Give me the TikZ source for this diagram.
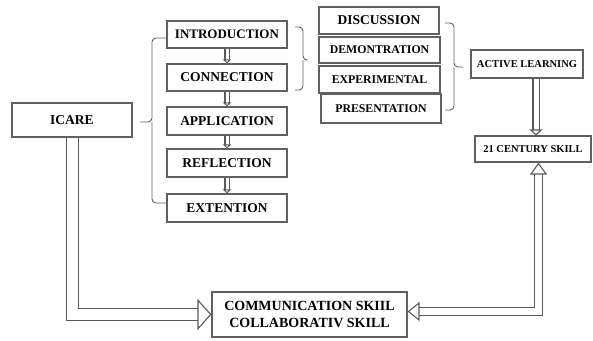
\documentclass[tikz,border=0pt]{standalone}
\usepackage{fontspec}
\setmainfont{Liberation Serif}
\usetikzlibrary{arrows.meta}

\begin{document}
\begin{tikzpicture}[x=1pt, y=-1pt, line join=miter]

  \tikzstyle{box}=[draw=gray!75!black, line width=1.1pt, font=\bfseries, inner sep=0pt, align=center, text=black]
  \tikzstyle{hollow}=[draw=gray!70!black, line width=1.1pt, double=white]
  \tikzstyle{bracket}=[draw=gray!75!black, line width=0.9pt, rounded corners=4pt]

  \useasboundingbox (0,0) rectangle (593,340);

  % left part
  \node[box, minimum width=120, minimum height=34, font=\bfseries\fontsize{13.5}{15}\selectfont] (icare) at (72,120) {ICARE};

  \node[box, minimum width=120, minimum height=27, font=\bfseries\fontsize{13}{15}\selectfont] (intro) at (227,34.5)  {INTRODUCTION};
  \node[box, minimum width=120, minimum height=27, font=\bfseries\fontsize{13.5}{15}\selectfont] (conn)  at (227,77.5)  {CONNECTION};
  \node[box, minimum width=120, minimum height=28, font=\bfseries\fontsize{13.5}{15}\selectfont] (appl)  at (227,121)   {APPLICATION};
  \node[box, minimum width=120, minimum height=28, font=\bfseries\fontsize{13.5}{15}\selectfont] (refl)  at (227,163)   {REFLECTION};
  \node[box, minimum width=120, minimum height=28, font=\bfseries\fontsize{13.5}{15}\selectfont] (ext)   at (227,208)   {EXTENTION};

  % middle part
  \node[box, minimum width=120, minimum height=27, font=\bfseries\fontsize{13.5}{15}\selectfont] (disc) at (379,20.5)  {DISCUSSION};
  \node[box, minimum width=121, minimum height=26, font=\bfseries\fontsize{11.8}{14}\selectfont] (demo) at (379.5,50)  {DEMONTRATION};
  \node[box, minimum width=121, minimum height=27, font=\bfseries\fontsize{11.8}{14}\selectfont] (expe) at (379.5,79.5) {EXPERIMENTAL};
  \node[box, minimum width=120, minimum height=29, font=\bfseries\fontsize{11.8}{14}\selectfont] (pres) at (381,108.5)  {PRESENTATION};

  % right part
  \node[box, minimum width=112, minimum height=28, font=\bfseries\fontsize{10.5}{12}\selectfont] (act)  at (527,64)  {ACTIVE LEARNING};
  \node[box, minimum width=116, minimum height=26, font=\bfseries\fontsize{10.5}{12}\selectfont] (cent) at (533,149) {21 CENTURY SKILL};

  \node[box, minimum width=195, minimum height=45, font=\bfseries\fontsize{14}{17}\selectfont] (comm) at (309.5,314.5) {COMMUNICATION SKIIL\\COLLABORATIV SKILL};

  % brackets
  \draw[bracket] (intro.west |- 0,38) -| (152,122) -- (140,122);
  \draw[bracket] (ext.west |- 0,203) -| (152,122);
  \draw[bracket] (295,27) -| (303,60) -- (308,60);
  \draw[bracket] (295,90) -| (303,60);
  \draw[bracket] (445,23) -| (454,67) -- (463,67);
  \draw[bracket] (445,110) -| (454,67);

  % small arrows
  \foreach \a/\b in {intro/conn, conn/appl, appl/refl, refl/ext}
    \draw[hollow, double distance=3pt, -{Triangle[open, length=4pt, width=8pt]}] (\a.south) -- (\b.north);

  \draw[hollow, double distance=5pt, -{Triangle[open, length=6pt, width=13pt]}] ([xshift=9]act.south) -- ([xshift=3]cent.north);

  % big arrows
  \draw[hollow, double distance=11.5pt, -{Triangle[open, length=14pt, width=31pt]}] ([xshift=0.5]icare.south) |- (comm.west);
  \draw[hollow, double distance=7.5pt, {Triangle[open, length=12pt, width=19pt]}-{Triangle[open, length=12pt, width=17pt]}] ([yshift=3]comm.east) -| ([xshift=5.5]cent.south);

\end{tikzpicture}
\end{document}
